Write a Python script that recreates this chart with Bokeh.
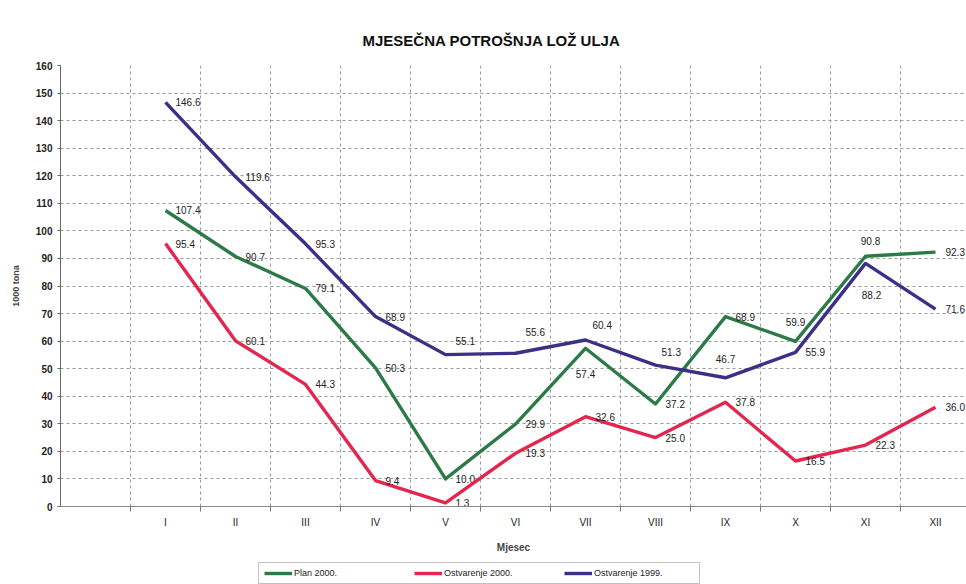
from bokeh.plotting import figure
from bokeh.layouts import column
from bokeh.models import (Range1d, FixedTicker, Legend, LegendItem, ColumnDataSource)
from bokeh.embed import file_html
from bokeh.resources import INLINE
from bokeh.core.properties import value

# ---- data ----
months = ["I", "II", "III", "IV", "V", "VI", "VII", "VIII", "IX", "X", "XI", "XII"]
plan_2000 = [107.4, 90.7, 79.1, 50.3, 10.0, 29.9, 57.4, 37.2, 68.9, 59.9, 90.8, 92.3]
ostvarenje_2000 = [95.4, 60.1, 44.3, 9.4, 1.3, 19.3, 32.6, 25.0, 37.8, 16.5, 22.3, 36.0]
ostvarenje_1999 = [146.6, 119.6, 95.3, 68.9, 55.1, 55.6, 60.4, 51.3, 46.7, 55.9, 88.2, 71.6]
y_ticks = list(range(0, 170, 10))
series_names = ["Plan 2000.", "Ostvarenje 2000.", "Ostvarenje 1999."]

# ---- styling ----
FONT = "Liberation Sans"
colors = ["#2b7a48", "#e2264f", "#3b2f88"]
# label placement exceptions: month index -> (align, dx, dy)
label_adjust = [
    {6: ("center", 0, 26), 9: ("center", 0, -19), 10: ("center", 5, -15)},
    {},
    {4: ("left", 10, -14), 5: ("left", 10, -21), 6: ("left", 7, -15),
     7: ("left", 6, -13), 8: ("center", 0, -19), 10: ("center", 6, 32)},
]

xs = [i + 1 for i in range(len(months))]

p = figure(width=966, height=558, output_backend="svg", toolbar_location=None,
           x_range=Range1d(-0.5, 12.443), y_range=Range1d(0, 160),
           min_border_left=60, min_border_right=0, min_border_top=65,
           min_border_bottom=52)
p.background_fill_color = "white"
p.border_fill_color = "white"
p.outline_line_color = None

p.title.text = "MJESEČNA POTROŠNJA LOŽ ULJA"
p.title.align = "left"
p.title.text_font = FONT
p.title.text_font_size = "15px"
p.title.text_font_style = "bold"
p.title.text_color = "#111111"
p.title.offset = 302
p.title.standoff = 34

# grids
p.xgrid.ticker = FixedTicker(ticks=[i + 0.5 for i in range(len(months))])
p.ygrid.ticker = FixedTicker(ticks=y_ticks[1:-1])
for g in (p.xgrid, p.ygrid):
    g.grid_line_color = "#9a9a9a"
    g.grid_line_dash = "3 3"
    g.grid_line_width = 1

# x axis
xa = p.xaxis[0]
xa.ticker = FixedTicker(ticks=xs, minor_ticks=[i + 0.5 for i in range(len(months))])
xa.major_label_overrides = {x: m for x, m in zip(xs, months)}
xa.major_tick_out = 0
xa.major_tick_in = 0
xa.minor_tick_out = 5
xa.minor_tick_in = 0
xa.minor_tick_line_color = "#777777"
xa.axis_line_color = "#888888"
xa.axis_label = "Mjesec"
xa.axis_label_text_font = FONT
xa.axis_label_text_font_size = "10px"
xa.axis_label_text_font_style = "bold"
xa.axis_label_standoff = 11
xa.major_label_standoff = 5
xa.major_label_text_font = FONT
xa.major_label_text_font_size = "10px"
xa.major_label_text_color = "#222222"

# y axis
ya = p.yaxis[0]
ya.ticker = FixedTicker(ticks=y_ticks)
ya.major_tick_out = 3
ya.major_tick_in = 0
ya.minor_tick_out = 0
ya.minor_tick_in = 0
ya.axis_line_color = "#666666"
ya.major_tick_line_color = "#666666"
ya.major_label_standoff = 5
ya.major_label_text_font = FONT
ya.major_label_text_font_size = "10px"
ya.major_label_text_font_style = "bold"
ya.major_label_text_color = "#222222"
ya.axis_label = "1000 tona"
ya.axis_label_text_font = FONT
ya.axis_label_text_font_size = "9px"
ya.axis_label_text_font_style = "bold"
ya.axis_label_standoff = 12

series = [plan_2000, ostvarenje_2000, ostvarenje_1999]
for s, (vals, name, col, adj) in enumerate(zip(series, series_names, colors, label_adjust)):
    p.line(xs, vals, line_color=col, line_width=3.4, line_join="round")
    aligns, dxs, dys = [], [], []
    for i in range(len(vals)):
        a, dx, dy = adj.get(i, ("left", 10, 0))
        aligns.append(a); dxs.append(dx); dys.append(dy)
    src = ColumnDataSource(dict(x=xs, y=vals, t=[f"{v:.1f}" for v in vals],
                                a=aligns, dx=dxs, dy=dys))
    p.text(x="x", y="y", text="t", source=src, x_offset="dx", y_offset="dy",
           text_align="a", text_baseline="middle", text_font=value(FONT),
           text_font_size="10px", text_color="#222222")

# ---- legend strip below the chart ----
pl = figure(width=966, height=26, output_backend="svg", toolbar_location=None,
            x_range=Range1d(0, 1), y_range=Range1d(0, 1),
            x_axis_location=None, y_axis_location=None,
            min_border_left=0, min_border_right=0, min_border_top=0,
            min_border_bottom=0)
pl.grid.visible = False
pl.outline_line_color = None
pl.background_fill_color = "white"
pl.border_fill_color = "white"
items = []
for name, col in zip(series_names, colors):
    # legend swatch only: a line kept outside the visible range
    r = pl.line(x=[0, 1], y=[5, 5], line_color=col, line_width=3.4)
    items.append(LegendItem(label=name, renderers=[r]))

legend = Legend(items=items, orientation="horizontal", location=(198, 0))
legend.label_text_font = FONT
legend.label_text_font_size = "9px"
legend.label_text_color = "#222222"
legend.glyph_width = 28
legend.glyph_height = 10
legend.label_standoff = 2
legend.label_width = 100
legend.spacing = 20
legend.padding = 5
legend.margin = 0
legend.border_line_color = "#888888"
legend.border_line_width = 1
legend.background_fill_alpha = 1
pl.add_layout(legend, "center")

open("out.html", "w").write(file_html(column(p, pl, spacing=0), INLINE))
